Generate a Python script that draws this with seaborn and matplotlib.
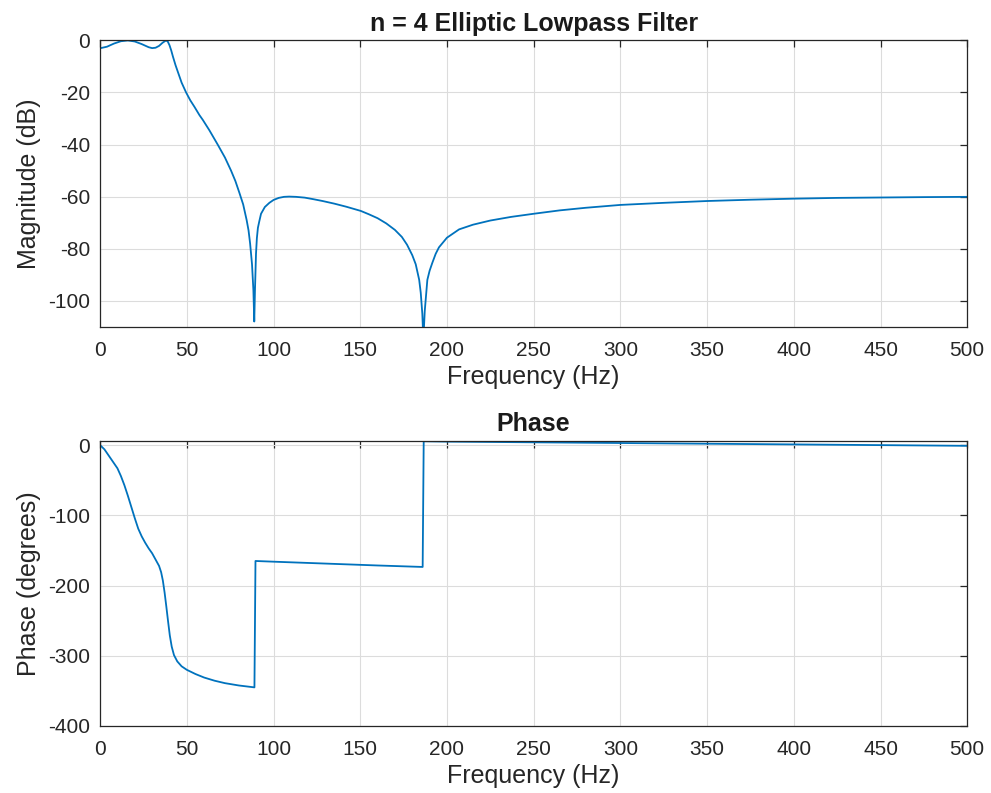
import numpy as np
import pandas as pd
import matplotlib
matplotlib.use("Agg")
import matplotlib.pyplot as plt
import seaborn as sns

# magnitude response (Hz, dB)
mag_freq = [0, 4, 8, 12, 16, 20, 24, 28, 30, 32, 34, 36, 38, 39, 40, 41, 42, 43.5,
            44.8, 47, 49.6, 52, 54.4, 57.3, 59.2, 63, 67.8, 72, 75.5, 78, 80.3, 82.5,
            84.5, 85.6, 86.5, 87.6, 88.4, 88.9, 89.3, 89.9, 90.4, 91.0, 91.8, 92.8,
            95, 97.6, 100, 103, 106, 109, 113, 118, 123, 128.3, 135, 142, 150.3,
            155, 160, 165, 170, 174, 177, 180, 182, 184, 184.9, 185.8, 186.4, 187.2,
            188.7, 190, 191.6, 193.5, 195.4, 200, 207, 215, 225, 237, 250, 265, 280,
            300, 325, 350, 375, 400, 425, 450, 475, 500]
mag_db = [-3.0, -2.4, -1.2, -0.3, 0.0, -0.4, -1.4, -2.6, -2.95, -2.8, -2.1, -0.9,
          0.0, -0.4, -1.8, -3.8, -6.2, -9.5, -12, -16.2, -20, -23, -25.5, -28.7,
          -30.5, -34.5, -40, -45, -50, -54, -58.5, -63, -69, -73, -78, -86, -96,
          -108, -96, -82, -76, -72, -69.5, -66.6, -64, -62.4, -61.3, -60.5, -60.1,
          -60.0, -60.1, -60.4, -61.0, -61.7, -62.7, -63.9, -65.5, -66.8, -68.3,
          -70.3, -72.8, -75.5, -78.5, -82.5, -86, -92, -97, -105, -115, -104, -92,
          -88.5, -85.4, -82, -79.5, -75.8, -72.6, -70.8, -69.2, -67.8, -66.6,
          -65.3, -64.3, -63.2, -62.4, -61.7, -61.2, -60.8, -60.5, -60.35, -60.2,
          -60.1]

# phase response (Hz, degrees)
ph_freq = [0, 2.5, 5, 7.5, 10, 12, 14, 16, 18, 20, 22, 24, 26, 28, 30, 32, 34,
           35.2, 36.2, 37.2, 38.2, 39.2, 40.2, 41.3, 42.6, 44.5, 47, 50, 55, 60, 66,
           72, 80, 89.0, 89.6, 100, 120, 140, 160, 186.0, 186.6, 200, 250, 300, 350,
           400, 450, 500]
ph_deg = [0, -6, -15, -24, -33, -44, -57, -72, -88, -104, -119, -130, -139, -147,
          -154, -163, -172, -181, -193, -210, -230, -251, -271, -287, -299, -308,
          -315, -320, -326, -331, -335.5, -339, -342.3, -345, -165, -166, -167.8,
          -169.6, -171.4, -173.5, 5.5, 5, 4, 3, 2, 1, 0, -1]

mag = pd.DataFrame({"f": mag_freq, "db": mag_db})
ph = pd.DataFrame({"f": ph_freq, "deg": ph_deg})

sns.set_style("white")
plt.rcParams["font.family"] = ["Liberation Sans", "DejaVu Sans"]
plt.rcParams["axes.unicode_minus"] = False

line_col = "#0072BD"
txt_col = "#262626"
fig = plt.figure(figsize=(9.91, 7.93), dpi=100)
ax1 = fig.add_axes([0.101, 0.588, 0.875, 0.361])
ax2 = fig.add_axes([0.101, 0.0845, 0.875, 0.3595])

sns.lineplot(data=mag, x="f", y="db", ax=ax1, color=line_col, linewidth=1.3,
             sort=False, estimator=None)
sns.lineplot(data=ph, x="f", y="deg", ax=ax2, color=line_col, linewidth=1.3,
             sort=False, estimator=None)

ax1.set_xlim(0, 500)
ax1.set_ylim(-110, 0)
ax1.set_yticks([0, -20, -40, -60, -80, -100])
ax2.set_xlim(0, 500)
ax2.set_ylim(-400, 6)
ax2.set_yticks([0, -100, -200, -300, -400])

for ax in (ax1, ax2):
    ax.set_xticks(range(0, 501, 50))
    ax.grid(True, color="#dcdcdc", linewidth=0.8)
    ax.set_axisbelow(True)
    for s in ax.spines.values():
        s.set_color(txt_col)
        s.set_linewidth(0.9)
    ax.tick_params(direction="in", top=True, right=True, length=5, width=0.9,
                   labelsize=15, colors=txt_col, pad=7)
    ax.tick_params(axis="x", pad=10)
    ax.set_xlabel("Frequency (Hz)", fontsize=18, color=txt_col, labelpad=4)

ax1.set_ylabel("Magnitude (dB)", fontsize=18, color=txt_col, labelpad=5)
ax2.set_ylabel("Phase (degrees)", fontsize=18, color=txt_col, labelpad=5)
ax1.set_title("n = 4 Elliptic Lowpass Filter", fontsize=18, fontweight="bold",
              color="#1a1a1a", pad=7)
ax2.set_title("Phase", fontsize=18, fontweight="bold", color="#1a1a1a", pad=7)

fig.savefig("out.png", dpi=100, facecolor="white")
